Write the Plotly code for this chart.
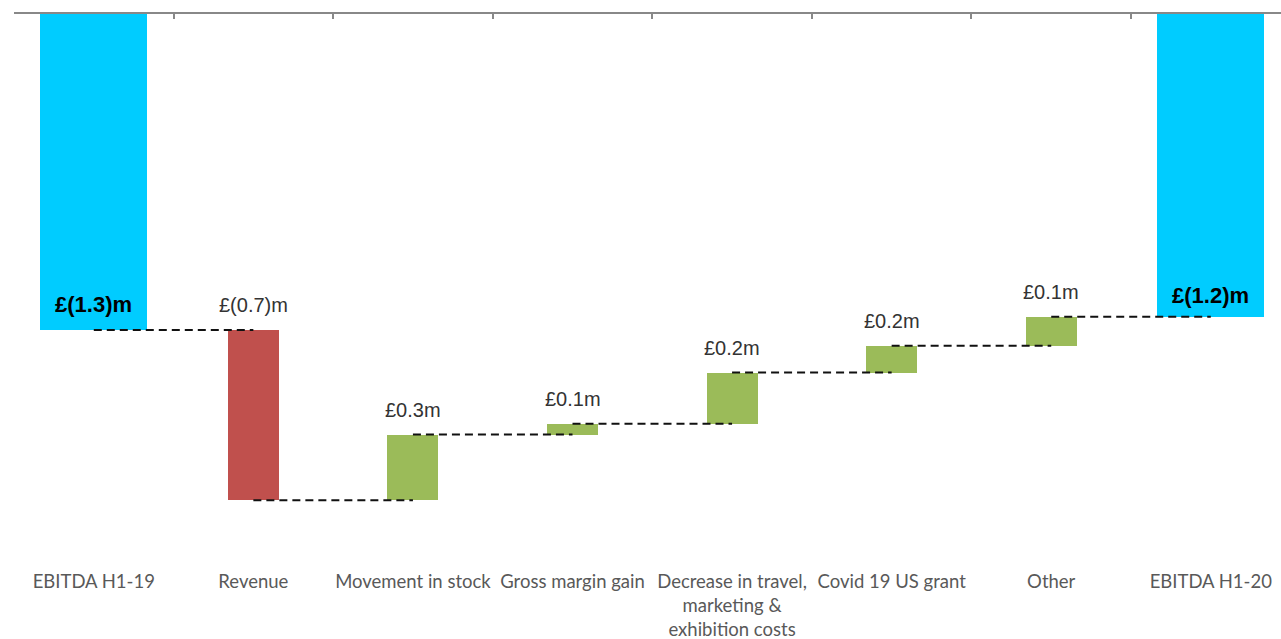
import plotly.graph_objects as go

categories = ["EBITDA H1-19", "Revenue", "Movement in stock", "Gross margin gain",
              "Decrease in travel,<br>marketing &<br>exhibition costs",
              "Covid 19 US grant", "Other", "EBITDA H1-20"]
# m£ values (negative EBITDA; deltas)
start_total = -1.3
deltas = [-0.70, 0.27, 0.045, 0.21, 0.11, 0.12]
value_labels = ["£(1.3)m", "£(0.7)m", "£0.3m", "£0.1m", "£0.2m", "£0.2m", "£0.1m", "£(1.2)m"]

BLUE, RED, GREEN = "#00CCFF", "#C0504D", "#9BBB59"

# cumulative levels
levels = [start_total]
for d in deltas:
    levels.append(levels[-1] + d)
end_total = levels[-1]

n = len(categories)
xs = list(range(n))
bases, heights, colors, widths = [], [], [], []
bases.append(0); heights.append(start_total); colors.append(BLUE); widths.append(0.67)
for i, d in enumerate(deltas):
    prev = levels[i]
    bases.append(prev); heights.append(d)
    colors.append(GREEN if d > 0 else RED); widths.append(0.32)
bases.append(0); heights.append(end_total); colors.append(BLUE); widths.append(0.67)

fig = go.Figure()
fig.add_trace(go.Bar(x=xs, y=heights, base=bases, width=widths,
                     marker=dict(color=colors, line=dict(width=0)),
                     hoverinfo="skip", showlegend=False))

# connectors: center to center at cumulative level
cx, cy = [], []
for i in range(n - 1):
    lvl = levels[i]
    cx += [i, i + 1, None]
    cy += [lvl, lvl, None]
fig.add_trace(go.Scatter(x=cx, y=cy, mode="lines",
                         line=dict(color="#111111", width=2, dash="8px,5px"),
                         hoverinfo="skip", showlegend=False))

# invisible trace on the top axis so the axis line with ticks shows
fig.add_trace(go.Scatter(x=[-0.5], y=[0], xaxis="x2", mode="markers",
                         marker=dict(opacity=0), hoverinfo="skip", showlegend=False))

annotations = []
for i, val, shift in [(0, start_total, 26), (n - 1, end_total, 21)]:
    annotations.append(dict(x=i, y=val, text="<b>%s</b>" % value_labels[i], showarrow=False,
                            yanchor="middle", yshift=shift,
                            font=dict(family="Liberation Sans, Arial", size=22, color="#000000")))
for i, d in enumerate(deltas):
    top = max(levels[i], levels[i + 1])
    annotations.append(dict(x=i + 1, y=top, text=value_labels[i + 1], showarrow=False,
                            yanchor="middle", yshift=25,
                            font=dict(family="Liberation Sans, Arial", size=20, color="#333333")))

XR = [-0.5, 7.44]
fig.update_layout(
    width=1281, height=639,
    margin=dict(l=14, r=0, t=14, b=77),
    paper_bgcolor="white", plot_bgcolor="white",
    bargap=0,
    annotations=annotations,
    xaxis=dict(range=XR, tickmode="array", tickvals=xs, ticktext=categories,
               showgrid=False, zeroline=False, showline=False, ticks="",
               ticklabelstandoff=6,
               tickfont=dict(family="Lato, Open Sans, sans-serif", size=18.5, color="#595959")),
    xaxis2=dict(overlaying="x", side="top", range=XR, tickmode="array",
                tickvals=[i - 0.5 for i in range(n + 1)], showticklabels=False,
                ticks="inside", ticklen=5, tickwidth=2, tickcolor="#888888",
                showline=True, linecolor="#888888", linewidth=2,
                showgrid=False, zeroline=False),
    yaxis=dict(range=[-2.254, 0], visible=False, showgrid=False, zeroline=False),
)

fig.write_html("out.html")
